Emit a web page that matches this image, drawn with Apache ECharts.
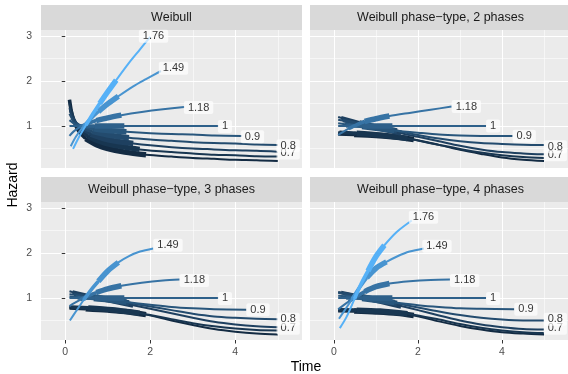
<!DOCTYPE html>
<html>
<head>
<meta charset="utf-8">
<script src="https://cdn.jsdelivr.net/npm/echarts@6/dist/echarts.min.js"></script>
<style>
  html, body { margin: 0; padding: 0; background: #fff; }
  #chart { width: 568px; height: 374px; }
</style>
</head>
<body>
<div id="chart"></div>
<script>
// shape parameters, one curve per shape
const shapes = [0.5, 0.6, 0.7, 0.8, 0.9, 1, 1.18, 1.49, 1.76];
// where each curve gets medium / thick
const medFrom = [0.1, 0.13, 0.17, 0.21, 0.25, 0.29, 0.35, 0.43, 0.49];
const thickFrom = [0.48, 0.54, 0.6, 0.63, 0.67, 0.69, 0.73, 0.78, 0.81];
const thickTo = [1.9, 1.75, 1.6, 1.5, 1.44, 1.39, 1.32, 1.25, 1.2];

const panelTitles = ['Weibull', 'Weibull phase\u2212type, 2 phases', 'Weibull phase\u2212type, 3 phases', 'Weibull phase\u2212type, 4 phases'];
const xTicks = [0, 2, 4];
const xMinor = [1, 3, 5];
const yTicks = [1, 2, 3];
const yMinor = [0.5, 1.5, 2.5];

// [time, hazard] per shape
const hazWeibull = [
  [[0.1,1.58],[0.15,1.29],[0.2,1.12],[0.3,0.91],[0.48,0.72],[0.75,0.58],[1,0.5],[1.4,0.42],[1.9,0.36],[2.5,0.32],[3,0.29],[3.5,0.27],[4,0.25],[4.5,0.24],[5,0.22]],
  [[0.1,1.51],[0.13,1.36],[0.2,1.14],[0.3,0.97],[0.54,0.77],[0.8,0.66],[1.1,0.58],[1.4,0.53],[1.75,0.48],[2.5,0.42],[3,0.39],[3.5,0.36],[4,0.35],[4.5,0.33],[5,0.32]],
  [[0.1,1.40],[0.17,1.19],[0.3,1.0],[0.6,0.82],[0.9,0.72],[1.2,0.66],[1.6,0.61],[2,0.57],[2.5,0.53],[3,0.50],[3.5,0.48],[4,0.46],[4.5,0.45],[5,0.43]],
  [[0.1,1.27],[0.21,1.09],[0.4,0.96],[0.63,0.88],[1,0.8],[1.5,0.74],[2,0.70],[2.5,0.67],[3,0.64],[3.5,0.62],[4,0.61],[4.5,0.59],[5,0.58]],
  [[0.1,1.13],[0.25,1.03],[0.45,0.98],[0.67,0.94],[1,0.9],[1.44,0.87],[2,0.84],[2.5,0.82],[3,0.81],[3.5,0.79],[4.15,0.78]],
  [[0.1,1],[0.29,1],[0.69,1],[1.39,1],[3.6,1]],
  [[0.1,0.78],[0.2,0.88],[0.35,0.98],[0.55,1.06],[0.73,1.12],[1,1.18],[1.32,1.24],[1.8,1.31],[2.3,1.37],[2.8,1.42]],
  [[0.13,0.55],[0.25,0.76],[0.43,0.99],[0.6,1.16],[0.78,1.32],[1,1.49],[1.25,1.66],[1.6,1.88],[1.9,2.04],[2.25,2.22]],
  [[0.185,0.49],[0.3,0.71],[0.49,1.02],[0.65,1.27],[0.81,1.50],[1,1.76],[1.2,2.02],[1.5,2.40],[1.75,2.69],[2,2.98]]
];
const hazPH2 = [
  [[0.1,0.82],[0.48,0.81],[1,0.79],[1.5,0.75],[1.9,0.70],[2.5,0.58],[3,0.47],[3.5,0.38],[4,0.30],[4.5,0.25],[5,0.22]],
  [[0.1,0.86],[0.13,0.86],[0.54,0.84],[1.1,0.80],[1.75,0.72],[2.5,0.58],[3,0.49],[3.5,0.41],[4,0.35],[4.5,0.31],[5,0.29]],
  [[0.1,1.20],[0.17,1.18],[0.6,1.07],[1.1,0.95],[1.6,0.84],[2,0.76],[2.5,0.66],[3,0.56],[3.5,0.48],[4,0.42],[4.5,0.39],[5,0.37]],
  [[0.1,1.14],[0.21,1.12],[0.63,1.04],[1,0.97],[1.5,0.89],[2,0.80],[2.5,0.72],[3,0.66],[3.5,0.62],[4,0.60],[4.5,0.585],[5,0.58]],
  [[0.1,1.06],[0.25,1.04],[0.67,0.99],[1,0.95],[1.44,0.90],[2,0.85],[2.5,0.81],[3,0.79],[3.5,0.78],[4.25,0.775]],
  [[0.1,1],[0.29,1],[0.69,1],[1.39,1],[3.62,1]],
  [[0.1,0.80],[0.2,0.86],[0.35,0.94],[0.55,1.03],[0.73,1.10],[1,1.16],[1.32,1.22],[1.8,1.29],[2.3,1.36],[2.8,1.43]]
];
const hazPH3 = [
  [[0.1,0.78],[0.48,0.76],[1,0.73],[1.5,0.69],[1.9,0.63],[2.5,0.50],[3,0.40],[3.5,0.31],[4,0.25],[4.5,0.21],[5,0.19]],
  [[0.1,0.80],[0.13,0.80],[0.54,0.78],[1.1,0.74],[1.75,0.66],[2.5,0.53],[3,0.44],[3.5,0.37],[4,0.32],[4.5,0.29],[5,0.28]],
  [[0.1,1.15],[0.17,1.13],[0.6,1.04],[1.1,0.94],[1.6,0.84],[2,0.76],[2.5,0.66],[3,0.56],[3.5,0.47],[4,0.41],[4.5,0.37],[5,0.35]],
  [[0.1,1.08],[0.21,1.07],[0.63,1.02],[1,0.97],[1.5,0.89],[2,0.81],[2.5,0.73],[3,0.65],[3.5,0.59],[4,0.56],[4.5,0.54],[5,0.53]],
  [[0.1,1.03],[0.25,1.02],[0.67,0.99],[1,0.96],[1.44,0.91],[2,0.85],[2.5,0.80],[3,0.77],[3.5,0.75],[4.26,0.74]],
  [[0.1,1],[0.29,1],[0.69,1],[1.39,1],[3.6,1]],
  [[0.1,0.82],[0.2,0.88],[0.35,0.96],[0.55,1.05],[0.73,1.12],[1,1.20],[1.32,1.27],[1.8,1.34],[2.3,1.39],[2.69,1.41]],
  [[0.11,0.50],[0.25,0.70],[0.43,0.95],[0.6,1.17],[0.78,1.37],[1,1.60],[1.25,1.79],[1.5,1.93],[1.76,2.03],[2.07,2.10]]
];
const hazPH4 = [
  [[0.1,0.72],[0.48,0.71],[1,0.69],[1.5,0.66],[1.9,0.61],[2.5,0.48],[3,0.38],[3.5,0.30],[4,0.24],[4.5,0.21],[5,0.19]],
  [[0.1,0.74],[0.13,0.74],[0.54,0.73],[1.1,0.71],[1.75,0.65],[2.5,0.52],[3,0.42],[3.5,0.34],[4,0.28],[4.5,0.24],[5,0.22]],
  [[0.1,1.13],[0.17,1.12],[0.6,1.04],[1.1,0.93],[1.6,0.82],[2,0.73],[2.5,0.61],[3,0.50],[3.5,0.41],[4,0.35],[4.5,0.31],[5,0.30]],
  [[0.1,1.11],[0.21,1.10],[0.63,1.03],[1,0.97],[1.5,0.88],[2,0.79],[2.5,0.70],[3,0.62],[3.5,0.56],[4,0.52],[4.5,0.50],[5,0.50]],
  [[0.1,1.05],[0.25,1.04],[0.67,0.99],[1,0.95],[1.44,0.90],[2,0.84],[2.5,0.80],[3,0.77],[3.5,0.76],[4.29,0.75]],
  [[0.1,1],[0.29,1],[0.69,1],[1.39,1],[3.62,1]],
  [[0.1,0.75],[0.2,0.82],[0.35,0.92],[0.55,1.04],[0.73,1.14],[1,1.25],[1.32,1.32],[1.8,1.37],[2.3,1.40],[2.76,1.41]],
  [[0.12,0.54],[0.25,0.72],[0.43,0.97],[0.6,1.22],[0.78,1.45],[1,1.66],[1.25,1.80],[1.5,1.92],[1.8,2.03],[2.14,2.10]],
  [[0.14,0.33],[0.3,0.58],[0.49,0.98],[0.65,1.32],[0.81,1.60],[1,1.92],[1.2,2.17],[1.5,2.47],[1.85,2.72]]
];

// end labels: [time, hazard, text]
const labelsWeibull = [[1.73,2.99,'1.76'],[2.20,2.28,'1.49'],[2.79,1.41,'1.18'],[3.59,0.99,'1'],[4.13,0.76,'0.9'],[4.97,0.40,'0.7'],[4.97,0.56,'0.8']];
const labelsPH2 = [[2.80,1.43,'1.18'],[3.62,1.0,'1'],[4.25,0.77,'0.9'],[4.99,0.36,'0.7'],[4.99,0.54,'0.8']];
const labelsPH3 = [[2.07,2.17,'1.49'],[2.69,1.39,'1.18'],[3.59,0.99,'1'],[4.26,0.74,'0.9'],[4.97,0.33,'0.7'],[4.97,0.53,'0.8']];
const labelsPH4 = [[1.78,2.79,'1.76'],[2.10,2.15,'1.49'],[2.76,1.39,'1.18'],[3.62,0.99,'1'],[4.29,0.75,'0.9'],[4.99,0.33,'0.7'],[4.99,0.53,'0.8']];

const panelCurves = [hazWeibull, hazPH2, hazPH3, hazPH4];
const panelLabels = [labelsWeibull, labelsPH2, labelsPH3, labelsPH4];

const FONT = '"Liberation Sans", Arial, Helvetica, sans-serif';
const PANEL_W = 261, PANEL_H = 138;
const panelPos = [[41, 30], [310, 30], [41, 202], [310, 202]];

function shapeColor(k) {
  const lo = [0x13, 0x2B, 0x43], hi = [0x56, 0xB1, 0xF7];
  const f = (k - 0.5) / (1.76 - 0.5);
  return 'rgb(' + lo.map((c, j) => Math.round(c + (hi[j] - c) * f)).join(',') + ')';
}

const myChart = echarts.init(document.getElementById('chart'));

const grids = [], xAxes = [], yAxes = [], series = [], graphics = [];

panelPos.forEach((pos, p) => {
  const isBottom = p >= 2, isLeft = p % 2 === 0;
  grids.push({
    left: pos[0], top: pos[1], width: PANEL_W, height: PANEL_H,
    show: true, backgroundColor: '#EBEBEB', borderWidth: 0
  });
  // major x
  xAxes.push({
    type: 'value', gridIndex: p, min: -0.57, max: 5.57, position: 'bottom',
    axisLine: { show: false },
    axisTick: { show: isBottom, length: 3.5, customValues: xTicks, lineStyle: { color: '#333333' } },
    axisLabel: { show: isBottom, customValues: xTicks, margin: 7, color: '#4D4D4D', fontSize: 10.5, fontFamily: FONT },
    splitLine: { show: true, lineStyle: { color: '#FFFFFF', width: 1.1 } }
  });
  // minor x
  xAxes.push({
    type: 'value', gridIndex: p, min: -0.57, max: 5.57, position: 'top',
    axisLine: { show: false },
    axisTick: { show: false, customValues: xMinor },
    axisLabel: { show: false, customValues: xMinor },
    splitLine: { show: true, lineStyle: { color: '#FFFFFF', width: 0.55 } }
  });
  yAxes.push({
    type: 'value', gridIndex: p, min: 0.067, max: 3.13, position: 'left',
    axisLine: { show: false },
    axisTick: { show: isLeft, length: 3.5, customValues: yTicks, lineStyle: { color: '#333333' } },
    axisLabel: { show: isLeft, customValues: yTicks, margin: 9, color: '#4D4D4D', fontSize: 10.5, fontFamily: FONT },
    splitLine: { show: true, lineStyle: { color: '#FFFFFF', width: 1.1 } }
  });
  yAxes.push({
    type: 'value', gridIndex: p, min: 0.067, max: 3.13, position: 'right',
    axisLine: { show: false },
    axisTick: { show: false, customValues: yMinor },
    axisLabel: { show: false, customValues: yMinor },
    splitLine: { show: true, lineStyle: { color: '#FFFFFF', width: 0.55 } }
  });

  // facet strip
  graphics.push({
    type: 'rect', shape: { x: pos[0], y: pos[1] - 25, width: PANEL_W, height: 25 },
    style: { fill: '#D9D9D9' }, silent: true
  });
  graphics.push({
    type: 'text', x: pos[0] + PANEL_W / 2, y: pos[1] - 12.5, silent: true,
    style: { text: panelTitles[p], fill: '#1A1A1A', fontSize: 12.5, fontFamily: FONT, align: 'center', verticalAlign: 'middle' }
  });

  // curves: thin everywhere, medium and thick over parts
  panelCurves[p].forEach((pts, i) => {
    const col = shapeColor(shapes[i]);
    const base = {
      type: 'line', xAxisIndex: 2 * p, yAxisIndex: 2 * p, showSymbol: false,
      smooth: 0.3, silent: true, animation: false
    };
    const ls = w => ({ color: col, width: w, cap: 'butt', join: 'round' });
    series.push(Object.assign({}, base, { data: pts, lineStyle: ls(2) }));
    series.push(Object.assign({}, base, {
      data: pts.filter(d => d[0] >= medFrom[i] && d[0] <= thickFrom[i]), lineStyle: ls(3.6)
    }));
    series.push(Object.assign({}, base, {
      data: pts.filter(d => d[0] >= thickFrom[i] && d[0] <= thickTo[i]), lineStyle: ls(5.5)
    }));
  });

  series.push({
    type: 'scatter', xAxisIndex: 2 * p, yAxisIndex: 2 * p, z: 5, silent: true, animation: false,
    symbolSize: 0.1, itemStyle: { color: 'rgba(0,0,0,0)' },
    data: panelLabels[p].map(d => ({ value: [d[0], d[1]], name: d[2] })),
    label: {
      show: true, position: 'right', distance: 0, formatter: '{b}',
      color: '#000000', fontSize: 11, fontFamily: FONT, lineHeight: 12,
      backgroundColor: 'rgba(255,255,255,0.85)', padding: [1, 4, 0, 4], borderRadius: 2
    }
  });
});

graphics.push({
  type: 'text', x: 306, y: 367, silent: true,
  style: { text: 'Time', fill: '#000000', fontSize: 14, fontFamily: FONT, align: 'center', verticalAlign: 'middle' }
});
graphics.push({
  type: 'text', x: 13, y: 185, rotation: Math.PI / 2, silent: true,
  style: { text: 'Hazard', fill: '#000000', fontSize: 14, fontFamily: FONT, align: 'center', verticalAlign: 'middle' }
});

myChart.setOption({
  backgroundColor: '#FFFFFF',
  animation: false,
  grid: grids,
  xAxis: xAxes,
  yAxis: yAxes,
  series: series,
  graphic: graphics
});
</script>
</body>
</html>
